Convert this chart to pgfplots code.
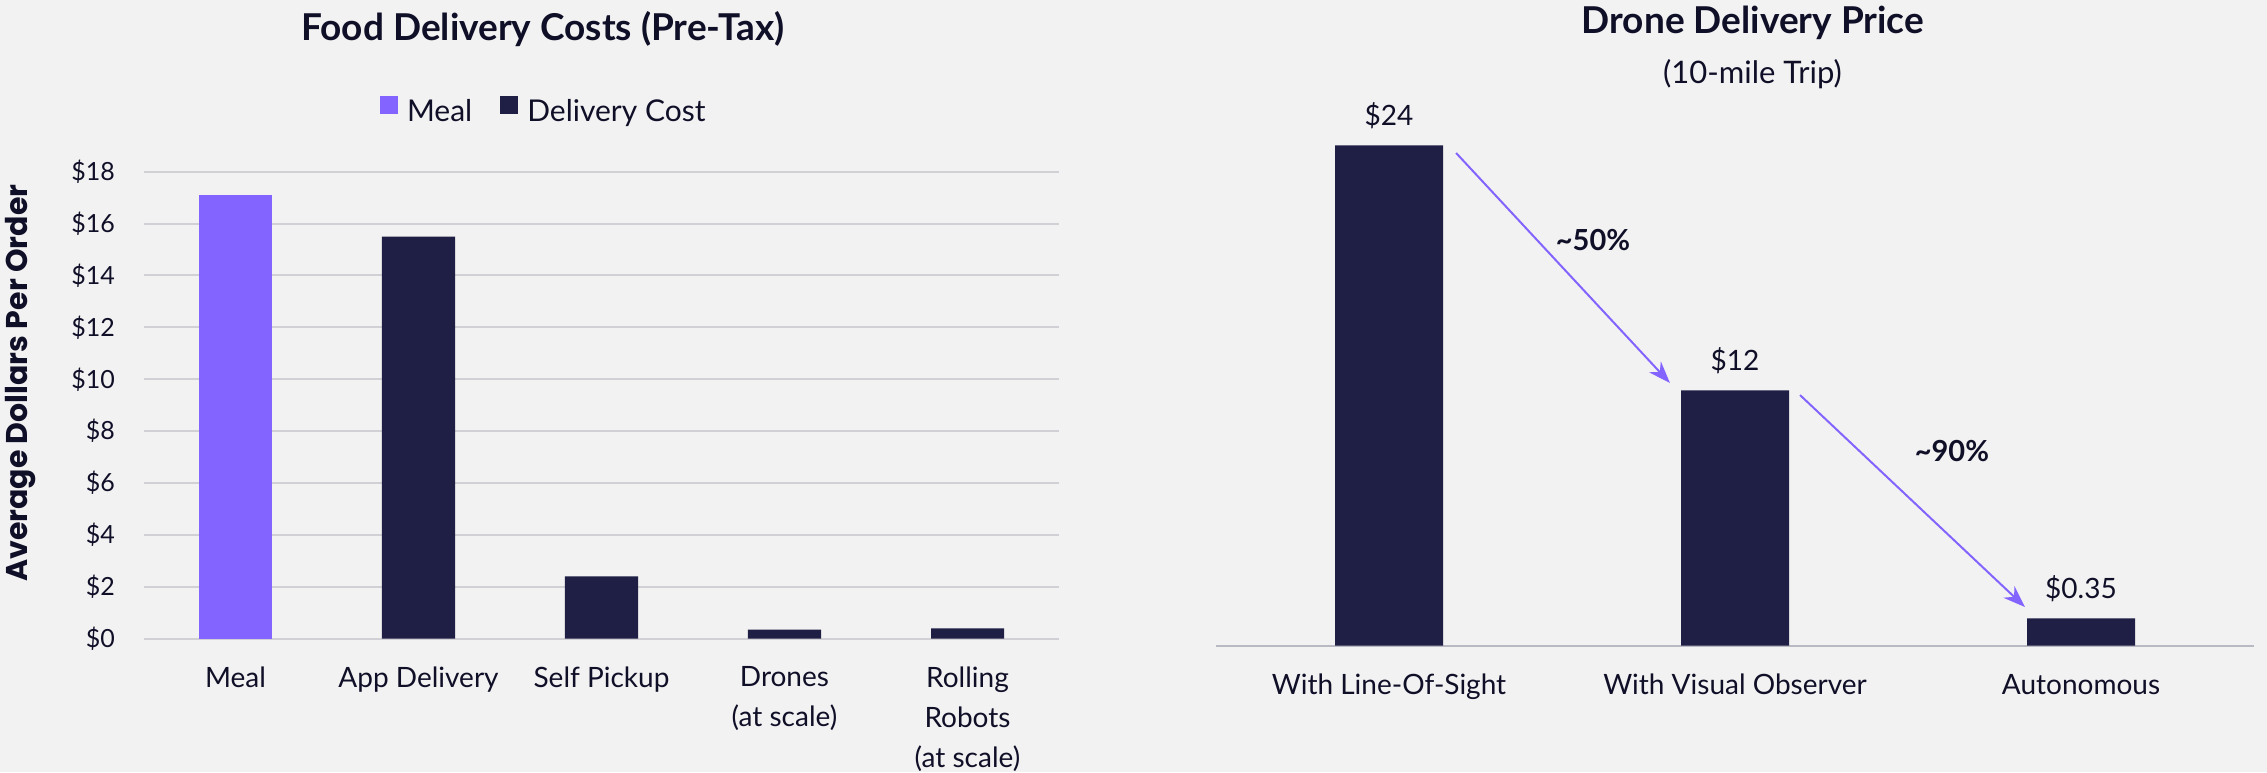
\documentclass[border=0pt]{standalone}
\usepackage{pgfplots}
\pgfplotsset{compat=1.18}
\usepackage{pgfplotstable}
\usetikzlibrary{arrows.meta}
\usepackage{fontspec}
\setmainfont{Lato}
\newfontfamily\poppins{Poppins}
\definecolor{bgc}{RGB}{242,242,242}
\definecolor{mealc}{RGB}{131,100,255}
\definecolor{navy}{RGB}{31,30,69}
\definecolor{txt}{RGB}{16,15,40}
\definecolor{gridc}{RGB}{208,208,213}
\definecolor{axc}{RGB}{185,185,195}

\pgfplotstableread{
x h lab
0 24.0 24
1 12.25 12
2 1.31 0.35
}\dronetable

\begin{document}
\begin{tikzpicture}
\path[use as bounding box, fill=bgc] (0,0) rectangle (1133.5pt,386pt);

% ---------------- Left chart ----------------
\begin{axis}[
  at={(72pt,66.65pt)}, anchor=south west,
  scale only axis, width=457.5pt, height=233.5pt,
  ybar, bar width=36.5pt,
  xmin=-0.5, xmax=4.5, ymin=0, ymax=18,
  axis line style={draw=none},
  major tick length=0pt,
  ymajorgrids, grid style={gridc, line width=1pt},
  ytick={0,2,...,18},
  yticklabels={\$0,\$2,\$4,\$6,\$8,\$10,\$12,\$14,\$16,\$18},
  yticklabel style={font=\fontsize{12.5}{14}\selectfont, text=txt, xshift=-11pt},
  xtick={0,1,2,3,4},
  xticklabels={Meal, App Delivery, Self Pickup, {Drones\\(at scale)}, {Rolling\\Robots\\(at scale)}},
  xticklabel style={font=\fontsize{14}{20}\selectfont, text=txt, align=center, anchor=north, yshift=-10.5pt},
  ylabel={Average Dollars Per Order},
  ylabel style={at={(axis description cs:-0.135,0.547)}, anchor=center, font=\poppins\bfseries\fontsize{15}{18}\selectfont, text=txt},
  title={Food Delivery Costs (Pre-Tax)},
  title style={at={(axis description cs:0.436,1.282)}, anchor=base, yshift=-6pt, font=\bfseries\fontsize{18.5}{22}\selectfont, text=txt},
  legend style={at={(axis description cs:0.438,1.128)}, anchor=center, draw=none, fill=none,
    font=\fontsize{15}{17}\selectfont, text=txt,
    /tikz/every odd column/.append style={column sep=2.5pt},
    /tikz/every even column/.append style={column sep=12pt}},
  legend columns=-1,
  clip=false,
]
\addplot[fill=mealc, draw=none, bar shift=0pt,
  legend image code/.code={\fill[mealc] (0pt,-1pt) rectangle (9pt,8pt);}]
  coordinates {(0,17.1)};
\addlegendentry{Meal}
\addplot[fill=navy, draw=none, bar shift=0pt,
  legend image code/.code={\fill[navy] (0pt,-1pt) rectangle (9pt,8pt);}]
  coordinates {(1,15.5) (2,2.4) (3,0.35) (4,0.4)};
\addlegendentry{Delivery Cost}
\end{axis}

% ---------------- Right chart ----------------
\begin{axis}[
  at={(608pt,63.15pt)}, anchor=south west,
  scale only axis, width=519pt, height=250.2pt,
  ybar, bar width=54pt,
  xmin=-0.5, xmax=2.5, ymin=0, ymax=24,
  axis x line*=bottom, axis y line=none,
  x axis line style={draw=axc, line width=1pt, -},
  major tick length=0pt,
  ytick=\empty,
  xtick={0,1,2},
  xticklabels={With Line-Of-Sight, With Visual Observer, Autonomous},
  xticklabel style={font=\fontsize{14}{20}\selectfont, text=txt, anchor=base, yshift=-24.65pt},
  point meta=explicit symbolic,
  nodes near coords={\$\pgfplotspointmeta},
  every node near coord/.append style={anchor=base, yshift=10pt, font=\fontsize{14}{16}\selectfont, text=txt},
  title={Drone Delivery Price},
  title style={at={(axis description cs:0.5173,1.2236)}, anchor=base, yshift=-6pt, font=\bfseries\fontsize{18.5}{22}\selectfont, text=txt},
  clip=false,
]
\addplot[fill=navy, draw=none, bar shift=0pt] table[x=x, y=h, meta=lab] \dronetable;
\node[anchor=base, font=\fontsize{15.5}{18}\selectfont, text=txt] at (axis description cs:0.5168,1.1237) {(10-mile Trip)};
\draw[mealc, line width=1pt, -{Stealth[length=11pt,width=8pt]}] (axis cs:0.194,23.63) -- (axis cs:0.812,12.6);
\draw[mealc, line width=1pt, -{Stealth[length=11pt,width=8pt]}] (axis cs:1.188,12.02) -- (axis cs:1.838,1.856);
\node[anchor=base, font=\bfseries\fontsize{14.5}{17}\selectfont, text=txt] at (axis cs:0.5896,18.95) {\textasciitilde50\%};
\node[anchor=base, font=\bfseries\fontsize{14.5}{17}\selectfont, text=txt] at (axis cs:1.627,8.83) {\textasciitilde90\%};
\end{axis}
\end{tikzpicture}
\end{document}
